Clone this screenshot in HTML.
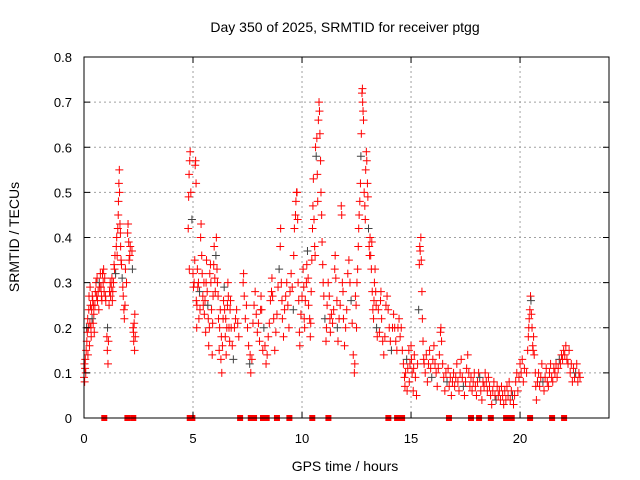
<!DOCTYPE html>
<html><head><meta charset="utf-8"><style>
html,body{margin:0;padding:0;background:#fff;}
svg{display:block;font-family:"Liberation Sans",sans-serif;}
</style></head><body>
<svg id="chart" width="640" height="480" viewBox="0 0 640 480" xmlns="http://www.w3.org/2000/svg">
<rect width="640" height="480" fill="#fff"/>
<g id="grid"></g>
<g id="points"></g>
<g id="marks"></g>
<rect x="84" y="57" width="525" height="361" fill="none" stroke="#000" stroke-width="1"/>
<g id="axes"></g>
<text x="345" y="32" font-size="14" text-anchor="middle">Day 350 of 2025, SRMTID for receiver ptgg</text>
<text x="345" y="471" font-size="14" text-anchor="middle">GPS time / hours</text>
<text transform="translate(19,237) rotate(-90)" font-size="14" text-anchor="middle">SRMTID / TECUs</text>
</svg>
<script>
const xTicks = [0,5,10,15,20];
const yTicks = [0,0.1,0.2,0.3,0.4,0.5,0.6,0.7,0.8];
const yTickLabels = ["0","0.1","0.2","0.3","0.4","0.5","0.6","0.7","0.8"];
const passA = [[0.0,0.09],[0.02,0.12],[0.03,0.08],[0.05,0.11],[0.06,0.13],[0.08,0.1],[0.1,0.15],[0.12,0.2],[0.13,0.17],[0.15,0.19],[0.17,0.22],[0.18,0.14],[0.2,0.2],[0.22,0.24],[0.23,0.27],[0.25,0.16],[0.27,0.21],[0.28,0.29],[0.3,0.25],[0.32,0.2],[0.33,0.18],[0.35,0.24],[0.37,0.22],[0.38,0.27],[0.4,0.26],[0.42,0.21],[0.43,0.25],[0.45,0.23],[0.47,0.19],[0.5,0.25],[0.52,0.28],[0.55,0.3],[0.58,0.27],[0.6,0.31],[0.62,0.26],[0.65,0.28],[0.68,0.24],[0.7,0.3],[0.72,0.29],[0.75,0.32],[0.78,0.29],[0.8,0.27],[0.82,0.26],[0.85,0.32],[0.88,0.3],[0.9,0.33],[0.92,0.28],[0.95,0.31],[0.98,0.27],[1.0,0.26],[1.05,0.18],[1.07,0.15],[1.08,0.2],[1.1,0.12],[1.12,0.17],[1.15,0.25],[1.17,0.28],[1.2,0.3],[1.22,0.27],[1.25,0.29],[1.28,0.31],[1.3,0.26],[1.32,0.28],[1.35,0.3],[1.38,0.34],[1.4,0.33],[1.42,0.36],[1.45,0.32],[1.48,0.38],[1.5,0.4],[1.52,0.36],[1.55,0.42],[1.57,0.45],[1.58,0.48],[1.6,0.52],[1.62,0.55],[1.63,0.5],[1.65,0.43],[1.67,0.41],[1.68,0.38],[1.7,0.35],[1.72,0.34],[1.75,0.31],[1.78,0.29],[1.8,0.27],[1.83,0.24],[1.85,0.22],[1.88,0.25],[1.9,0.33],[1.95,0.3],[2.0,0.41],[2.02,0.43],[2.05,0.39],[2.07,0.35],[2.1,0.36],[2.12,0.38],[2.2,0.37],[2.22,0.33],[2.25,0.2],[2.27,0.19],[2.28,0.17],[2.3,0.21],[2.32,0.15],[2.33,0.23],[2.35,0.18]];
const passB = [[4.78,0.42],[4.8,0.49],[4.82,0.54],[4.83,0.33],[4.85,0.57],[4.87,0.59],[4.9,0.5],[4.95,0.44],[5.0,0.32],[5.02,0.29],[5.05,0.3],[5.08,0.35],[5.1,0.56],[5.12,0.57],[5.14,0.52],[5.15,0.26],[5.17,0.2],[5.18,0.25],[5.2,0.33],[5.22,0.29],[5.25,0.3],[5.27,0.22],[5.3,0.28],[5.32,0.24],[5.35,0.4],[5.37,0.43],[5.4,0.36],[5.42,0.32],[5.45,0.27],[5.47,0.25],[5.5,0.3],[5.52,0.23],[5.55,0.26],[5.58,0.19],[5.6,0.3],[5.62,0.35],[5.65,0.28],[5.68,0.25],[5.7,0.22],[5.72,0.16],[5.75,0.2],[5.77,0.32],[5.8,0.34],[5.82,0.3],[5.85,0.24],[5.88,0.14],[5.9,0.21],[5.92,0.27],[5.95,0.34],[5.97,0.38],[6.0,0.31],[6.02,0.28],[6.05,0.36],[6.07,0.4],[6.1,0.33],[6.12,0.3],[6.15,0.27],[6.17,0.22],[6.2,0.15],[6.22,0.2],[6.25,0.24],[6.28,0.13],[6.3,0.18],[6.32,0.1],[6.35,0.16],[6.38,0.22],[6.4,0.26],[6.43,0.29],[6.45,0.24],[6.48,0.18],[6.5,0.22],[6.52,0.14],[6.55,0.2],[6.58,0.25],[6.6,0.3],[6.62,0.27],[6.65,0.2],[6.68,0.17],[6.7,0.24],[6.72,0.26],[6.75,0.2],[6.8,0.16],[6.85,0.13],[6.9,0.2],[6.95,0.22],[7.0,0.24],[7.05,0.21],[7.1,0.18]];
const passC = [[7.3,0.3],[7.32,0.32],[7.35,0.27],[7.4,0.22],[7.45,0.25],[7.5,0.2],[7.55,0.16],[7.6,0.12],[7.62,0.14],[7.65,0.1],[7.7,0.13],[7.75,0.21],[7.8,0.25],[7.85,0.28],[7.9,0.23],[7.95,0.19],[8.0,0.21],[8.05,0.17],[8.1,0.24],[8.12,0.27],[8.15,0.24],[8.2,0.15],[8.25,0.2],[8.3,0.16],[8.35,0.12],[8.4,0.14],[8.45,0.18],[8.5,0.21],[8.55,0.26],[8.6,0.28],[8.62,0.31],[8.65,0.27],[8.7,0.22],[8.75,0.15],[8.8,0.19],[8.85,0.23],[8.9,0.29],[8.95,0.33],[9.0,0.38],[9.02,0.42],[9.05,0.3],[9.08,0.26],[9.1,0.22],[9.15,0.18],[9.2,0.24],[9.25,0.27],[9.3,0.3],[9.35,0.25],[9.4,0.2],[9.45,0.28],[9.5,0.32],[9.55,0.29],[9.6,0.24],[9.62,0.36],[9.65,0.42],[9.7,0.45],[9.72,0.48],[9.75,0.5],[9.77,0.5],[9.8,0.44],[9.82,0.3],[9.85,0.26],[9.88,0.19],[9.9,0.16],[9.95,0.23],[10.0,0.27]];
const passD = [[10.05,0.33],[10.08,0.29],[10.1,0.22],[10.12,0.2],[10.15,0.26],[10.2,0.3],[10.22,0.34],[10.25,0.37],[10.28,0.31],[10.3,0.25],[10.35,0.22],[10.38,0.18],[10.4,0.21],[10.42,0.28],[10.45,0.35],[10.48,0.42],[10.5,0.47],[10.52,0.53],[10.55,0.44],[10.58,0.38],[10.6,0.36],[10.62,0.6],[10.65,0.58],[10.68,0.62],[10.7,0.54],[10.72,0.48],[10.75,0.66],[10.78,0.7],[10.8,0.68],[10.82,0.63],[10.85,0.57],[10.87,0.5],[10.9,0.45],[10.92,0.39],[10.95,0.34],[10.97,0.3],[11.0,0.27],[11.05,0.22],[11.1,0.17],[11.12,0.2],[11.15,0.25],[11.2,0.3],[11.25,0.27],[11.28,0.22],[11.3,0.19],[11.35,0.23],[11.4,0.21],[11.45,0.24],[11.5,0.33],[11.52,0.36],[11.55,0.31],[11.6,0.26],[11.62,0.2],[11.65,0.17],[11.7,0.22],[11.75,0.25],[11.8,0.47],[11.82,0.45],[11.85,0.3],[11.88,0.28],[11.9,0.22],[11.95,0.16],[12.0,0.2],[12.05,0.24],[12.1,0.32],[12.15,0.35],[12.2,0.3],[12.25,0.26],[12.3,0.21],[12.35,0.14],[12.4,0.1],[12.42,0.12],[12.45,0.27],[12.48,0.25],[12.5,0.2]];
const passE = [[12.52,0.3],[12.55,0.33],[12.58,0.38],[12.6,0.42],[12.62,0.45],[12.65,0.48],[12.68,0.52],[12.7,0.58],[12.72,0.63],[12.75,0.72],[12.77,0.73],[12.78,0.7],[12.8,0.68],[12.82,0.66],[12.85,0.5],[12.88,0.47],[12.9,0.44],[12.92,0.55],[12.95,0.59],[12.97,0.57],[13.0,0.52],[13.02,0.49],[13.05,0.42],[13.08,0.38],[13.1,0.36],[13.12,0.4],[13.15,0.36],[13.18,0.33],[13.2,0.39],[13.22,0.28],[13.25,0.24],[13.28,0.22],[13.3,0.26],[13.32,0.3],[13.35,0.33],[13.38,0.28],[13.4,0.25],[13.42,0.2],[13.45,0.18],[13.5,0.24],[13.55,0.19],[13.6,0.26],[13.62,0.28],[13.65,0.22],[13.7,0.17],[13.75,0.14],[13.8,0.18],[13.85,0.25],[13.9,0.27],[13.95,0.24],[14.0,0.2],[14.05,0.17],[14.1,0.15],[14.15,0.2],[14.2,0.23],[14.25,0.2],[14.3,0.17],[14.35,0.15],[14.4,0.2],[14.45,0.22],[14.5,0.18],[14.55,0.2],[14.6,0.15],[14.65,0.12],[14.7,0.09],[14.72,0.07],[14.75,0.1],[14.8,0.13],[14.82,0.06],[14.85,0.11],[14.9,0.15],[14.92,0.08],[14.95,0.12],[15.0,0.16],[15.02,0.13],[15.05,0.1],[15.1,0.06],[15.12,0.11],[15.15,0.14],[15.2,0.09],[15.25,0.05],[15.3,0.12],[15.35,0.24],[15.38,0.34],[15.4,0.38],[15.42,0.37],[15.45,0.4],[15.47,0.35],[15.5,0.28],[15.52,0.22],[15.55,0.17],[15.58,0.13]];
const passF = [[15.6,0.12],[15.65,0.1],[15.7,0.14],[15.75,0.08],[15.8,0.12],[15.85,0.15],[15.9,0.11],[15.95,0.09],[16.0,0.13],[16.05,0.16],[16.1,0.12],[16.15,0.1],[16.2,0.07],[16.25,0.11],[16.3,0.14],[16.35,0.19],[16.37,0.2],[16.4,0.17],[16.45,0.12],[16.5,0.09],[16.55,0.06],[16.6,0.1],[16.65,0.08],[16.7,0.11],[16.75,0.07],[16.8,0.09],[16.85,0.05],[16.9,0.08],[16.95,0.1],[17.0,0.07],[17.05,0.09],[17.1,0.12],[17.15,0.08],[17.2,0.06],[17.25,0.1],[17.3,0.13],[17.35,0.09],[17.4,0.07],[17.45,0.05],[17.5,0.08],[17.55,0.11],[17.6,0.14],[17.65,0.1],[17.7,0.07],[17.75,0.09],[17.8,0.06],[17.85,0.08],[17.9,0.1],[17.95,0.07],[18.0,0.05],[18.05,0.08],[18.1,0.1],[18.15,0.09],[18.2,0.06],[18.25,0.04],[18.3,0.08],[18.35,0.07],[18.4,0.1],[18.45,0.08],[18.5,0.06],[18.55,0.09],[18.6,0.07],[18.65,0.05],[18.7,0.03],[18.75,0.06],[18.8,0.08],[18.85,0.05],[18.9,0.04],[18.95,0.07],[19.0,0.05],[19.05,0.06],[19.1,0.04],[19.15,0.07],[19.2,0.05],[19.25,0.03],[19.3,0.06],[19.35,0.04],[19.4,0.07],[19.45,0.05],[19.5,0.08],[19.55,0.04],[19.6,0.06],[19.65,0.05],[19.7,0.03],[19.75,0.05],[19.8,0.08],[19.85,0.1],[19.9,0.06],[19.95,0.09],[20.0,0.12],[20.05,0.1],[20.1,0.13],[20.15,0.08],[20.2,0.11]];
const passG = [[20.3,0.1],[20.35,0.15],[20.38,0.18],[20.4,0.2],[20.42,0.22],[20.45,0.24],[20.48,0.27],[20.5,0.26],[20.52,0.23],[20.55,0.2],[20.58,0.16],[20.6,0.15],[20.62,0.18],[20.65,0.14],[20.7,0.1],[20.72,0.07],[20.75,0.04],[20.8,0.08],[20.85,0.1],[20.9,0.07],[20.95,0.09],[21.0,0.12],[21.05,0.08],[21.1,0.06],[21.15,0.09],[21.2,0.11],[21.25,0.08],[21.3,0.07],[21.35,0.1],[21.4,0.12],[21.45,0.09],[21.5,0.08],[21.55,0.11],[21.6,0.1],[21.65,0.12],[21.7,0.09],[21.75,0.11],[21.8,0.13],[21.85,0.12],[21.9,0.14],[21.95,0.13],[22.0,0.15],[22.05,0.14],[22.1,0.16],[22.15,0.13],[22.2,0.12],[22.25,0.15],[22.3,0.1],[22.35,0.12],[22.4,0.08],[22.45,0.11],[22.5,0.09],[22.55,0.1],[22.6,0.12],[22.65,0.08],[22.7,0.1],[22.75,0.09]];
const gapHours = [0.93,1.99,2.26,4.85,4.91,4.97,7.16,7.65,7.8,8.21,8.38,8.85,9.42,10.47,11.21,13.96,14.36,14.59,16.74,17.75,18.12,18.66,19.36,19.62,20.46,21.47,22.02];

const X0=84, X1=609, Y0=418, Y1=57, XMAX=24.08, YMAX=0.8;
function xs(h){return X0+(h/XMAX)*(X1-X0);}
function ys(v){return Y0-(v/YMAX)*(Y0-Y1);}
const NS="http://www.w3.org/2000/svg";
function mk(tag,attrs,parent){const e=document.createElementNS(NS,tag);for(const k in attrs)e.setAttribute(k,attrs[k]);parent.appendChild(e);return e;}
const grid=document.getElementById('grid'), axes=document.getElementById('axes');
xTicks.forEach(t=>{const x=xs(t);
  if(t>0){const g=mk('line',{x1:x,y1:Y0,x2:x,y2:Y1,stroke:'#a0a0a0','stroke-dasharray':'2,3'},grid);
  
  }
  const a=mk('line',{x1:x,y1:Y0,x2:x,y2:Y0-6,stroke:'#000'},axes);
  
  
  const b=mk('line',{x1:x,y1:Y1,x2:x,y2:Y1+6,stroke:'#000'},axes);
  
  
  const l=mk('text',{x:x,y:Y0+25,'font-size':13,'text-anchor':'middle'},axes);l.textContent=String(t);
  
  
});
yTicks.forEach((t,i)=>{const y=ys(t);
  if(t>0&&t<YMAX){const g=mk('line',{x1:X0,y1:y,x2:X1,y2:y,stroke:'#a0a0a0','stroke-dasharray':'2,3'},grid);
  
  }
  const a=mk('line',{x1:X0,y1:y,x2:X0+6,y2:y,stroke:'#000'},axes);
  
  
  const b=mk('line',{x1:X1,y1:y,x2:X1-6,y2:y,stroke:'#000'},axes);
  
  
  const l=mk('text',{x:X0-12,y:y+5,'font-size':13,'text-anchor':'end'},axes);l.textContent=yTickLabels[i];
  
  
});
const pts=document.getElementById('points');
[passA,passB,passC,passD,passE,passF,passG].forEach(pass=>{
  pass.forEach((p,j)=>{const x=xs(p[0]),y=ys(p[1]);
    const col=(j%15===7)?'#404040':'#ff0000';
    const m=mk('path',{d:`M${x-4},${y}h8M${x},${y-4}v8`,stroke:col,'stroke-width':1,fill:'none'},pts);
    
    
  });
});
const marks=document.getElementById('marks');
gapHours.forEach(h=>{const x=xs(h);
  const r=mk('rect',{x:x-3,y:Y0-3,width:6,height:6,fill:'#ff0000'},marks);
  
  
});
</script>
</body></html>
